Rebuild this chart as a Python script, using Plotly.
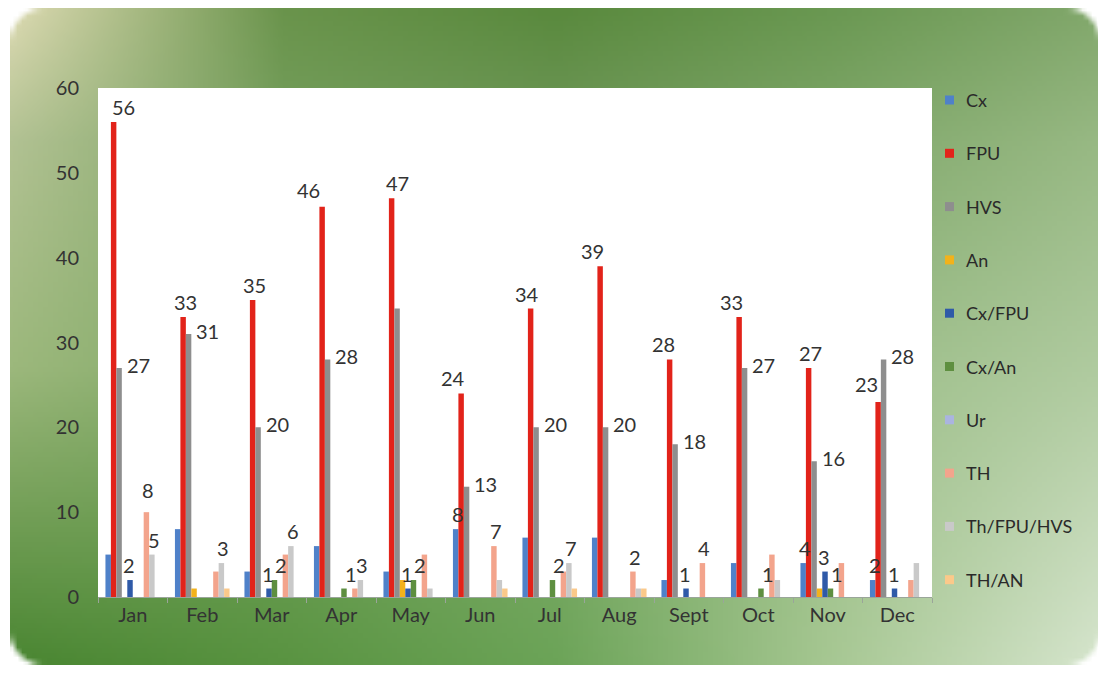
import base64
import struct
import zlib

import plotly.graph_objects as go

# ---- data ---------------------------------------------------------------
months = ["Jan", "Feb", "Mar", "Apr", "May", "Jun", "Jul", "Aug", "Sept", "Oct", "Nov", "Dec"]

cx = [5, 8, 3, 6, 3, 8, 7, 7, 2, 4, 4, 2]
fpu = [56, 33, 35, 46, 47, 24, 34, 39, 28, 33, 27, 23]
hvs = [27, 31, 20, 28, 34, 13, 20, 20, 18, 27, 16, 28]
an = [0, 1, 0, 0, 2, 0, 0, 0, 0, 0, 1, 0]
cx_fpu = [2, 0, 1, 0, 1, 0, 0, 0, 1, 0, 3, 1]
cx_an = [0, 0, 2, 1, 2, 0, 2, 0, 0, 1, 1, 0]
ur = [0, 0, 0, 0, 0, 0, 0, 0, 0, 0, 0, 0]
th = [10, 3, 5, 1, 5, 6, 3, 3, 4, 5, 4, 2]
th_fpu_hvs = [5, 4, 6, 2, 1, 2, 4, 1, 0, 2, 0, 4]
th_an = [0, 1, 0, 0, 0, 1, 1, 1, 0, 0, 0, 0]

# data labels as printed on the chart (None = no label)
lbl_cx = [None, None, None, None, None, "8", None, None, None, None, "4", "2"]
lbl_fpu = ["56", "33", "35", "46", "47", "24", "34", "39", "28", "33", "27", "23"]
lbl_hvs = ["27", "31", "20", "28", None, "13", "20", "20", "18", "27", "16", "28"]
lbl_cx_fpu = ["2", None, "1", None, "1", None, None, None, "1", None, "3", "1"]
lbl_cx_an = [None, None, "2", "1", "2", None, "2", None, None, "1", "1", None]
lbl_th = ["8", None, None, None, None, "7", None, "2", "4", None, None, None]
lbl_th_fpu_hvs = ["5", "3", "6", "3", None, None, "7", None, None, None, None, None]

series = [
    ("Cx", cx, "#4f81c9", lbl_cx),
    ("FPU", fpu, "#e2231a", lbl_fpu),
    ("HVS", hvs, "#8e8e8e", lbl_hvs),
    ("An", an, "#f2b21b", None),
    ("Cx/FPU", cx_fpu, "#2f5aa8", lbl_cx_fpu),
    ("Cx/An", cx_an, "#5e8f40", lbl_cx_an),
    ("Ur", ur, "#aab4e0", None),
    ("TH", th, "#f3a48c", lbl_th),
    ("Th/FPU/HVS", th_fpu_hvs, "#c9c9c9", lbl_th_fpu_hvs),
    ("TH/AN", th_an, "#fbc98a", None),
]

# ---- layout geometry (page has an 8px body margin) -----------------------
W, H = 1098, 665
ML, MR, MT, MB = 90, 174, 80, 76
plot_w = W - ML - MR
plot_h = H - MT - MB
bargap = 0.214
bar_px = plot_w / len(months) * (1 - bargap) / len(series)

# hand-placed label nudges (px), as the labels were dragged in the original
label_nudge = {("FPU", "Jan"): 8, ("FPU", "Apr"): -16, ("FPU", "May"): 4, ("FPU", "Jun"): -10,
               ("FPU", "Jul"): -6, ("FPU", "Aug"): -10, ("FPU", "Sept"): -8,
               ("FPU", "Oct"): -10, ("FPU", "Dec"): -14}
label_lift = {("TH", "Jan"): 7, ("FPU", "Apr"): 2, ("FPU", "Dec"): 3}


# ---- green gradient background (small png, stretched) --------------------
def hex2rgb(h):
    return [int(h[i:i + 2], 16) for i in (1, 3, 5)]


grid_u = [0, 0.25, 0.5, 0.75, 1]
grid_v = [0, 0.2, 0.55, 1]
grid = [
    ["#dcdab2", "#6a944c", "#5a8a3e", "#6a9852", "#82a86c"],
    ["#b2c293", "#76a05e", "#70985a", "#80a86a", "#98b984"],
    ["#9cb87c", "#7ea866", "#86ad70", "#9cbe88", "#b0cba0"],
    ["#4a8632", "#5a9442", "#6ca458", "#a6c792", "#d6e5cd"],
]
grid = [[hex2rgb(c) for c in row] for row in grid]


def interp(arr, t):
    for k in range(len(arr) - 1):
        if arr[k] <= t <= arr[k + 1]:
            return k, (t - arr[k]) / (arr[k + 1] - arr[k])
    return len(arr) - 2, 1.0


def color_at(u, v):
    i, fu = interp(grid_u, u)
    j, fv = interp(grid_v, v)
    out = []
    for c in range(3):
        a = grid[j][i][c] * (1 - fu) + grid[j][i + 1][c] * fu
        b = grid[j + 1][i][c] * (1 - fu) + grid[j + 1][i + 1][c] * fu
        out.append(int(a * (1 - fv) + b * fv))
    return out


iw, ih, rad = 218, 131, 7.0
rows = []
for y in range(ih):
    row = bytearray()
    for x in range(iw):
        r, g, b = color_at(x / (iw - 1), y / (ih - 1))
        cxp = min(max(x + 0.5, rad), iw - rad)
        cyp = min(max(y + 0.5, rad), ih - rad)
        d = ((x + 0.5 - cxp) ** 2 + (y + 0.5 - cyp) ** 2) ** 0.5
        alpha = int(255 * min(1.0, max(0.0, rad - d + 0.5)))
        row += bytes([r, g, b, alpha])
    rows.append(bytes(row))


def chunk(tag, data):
    return struct.pack(">I", len(data)) + tag + data + struct.pack(">I", zlib.crc32(tag + data) & 0xffffffff)


png = (b"\x89PNG\r\n\x1a\n"
       + chunk(b"IHDR", struct.pack(">IIBBBBB", iw, ih, 8, 6, 0, 0, 0))
       + chunk(b"IDAT", zlib.compress(b"".join(b"\x00" + r for r in rows)))
       + chunk(b"IEND", b""))
bg_uri = "data:image/png;base64," + base64.b64encode(png).decode()

# figure pixels -> paper coords
px = lambda x: (x - ML) / plot_w
py = lambda y: (H - MB - y) / plot_h
bx0, bx1, by0, by1 = 2, 1092, 0, 657

# ---- figure ------------------------------------------------------------
fig = go.Figure()
for k, (name, vals, col, _) in enumerate(series):
    fig.add_trace(go.Bar(x=months, y=vals, name=name, marker_color=col,
                         marker_line_width=0, showlegend=False))

label_font = dict(family="Lato, Open Sans, sans-serif", size=20, color="#333333")
extra_shift = {"Cx/FPU": -3, "Cx/An": 5}
for k, (name, vals, col, labels) in enumerate(series):
    if labels is None:
        continue
    centre = (k - 4.5) * bar_px
    for m, v, t in zip(months, vals, labels):
        if t is None:
            continue
        if name == "HVS":
            fig.add_annotation(x=m, y=v, text=t, showarrow=False, font=label_font,
                               xanchor="left", yanchor="middle",
                               xshift=centre + bar_px / 2 + 3, yshift=3)
        else:
            fig.add_annotation(x=m, y=v, text=t, showarrow=False, font=label_font,
                               xanchor="center", yanchor="bottom",
                               xshift=centre + 2 + extra_shift.get(name, 0) + label_nudge.get((name, m), 0),
                               yshift=1 + label_lift.get((name, m), 0))

# legend drawn by hand so the tall spacing fits
leg_top, leg_step = 92, 53.3
for k, (name, vals, col, _) in enumerate(series):
    yc = leg_top + k * leg_step
    fig.add_shape(type="rect", xref="paper", yref="paper",
                  x0=px(937), x1=px(946), y0=py(yc + 4.5), y1=py(yc - 4.5),
                  fillcolor=col, line_width=0)
    fig.add_annotation(xref="paper", yref="paper", x=px(956), y=py(yc), text=name,
                       showarrow=False, xanchor="left", yanchor="middle",
                       font=dict(family="Lato, Open Sans, sans-serif", size=18, color="#2a2a2a"))

fig.add_layout_image(source=bg_uri, xref="paper", yref="paper",
                     x=px(bx0), y=py(by0), sizex=px(bx1) - px(bx0), sizey=py(by0) - py(by1),
                     xanchor="left", yanchor="top", sizing="stretch", layer="below")
# white plotting area on top of the background image
fig.add_shape(type="rect", xref="paper", yref="paper", x0=0, x1=1, y0=0, y1=1,
              fillcolor="white", line_width=0, layer="below")

fig.update_layout(
    width=W, height=H,
    margin=dict(l=ML, r=MR, t=MT, b=MB, pad=0),
    paper_bgcolor="white", plot_bgcolor="white",
    barmode="group", bargap=bargap, bargroupgap=0,
    font=dict(family="Lato, Open Sans, sans-serif", size=18, color="#333333"),
    showlegend=False,
    hovermode=False,
)
fig.update_xaxes(showline=True, linecolor="#9aa59a", linewidth=1, ticks="outside",
                 tickson="boundaries", ticklen=5, tickcolor="#9aa59a",
                 tickfont=dict(size=20, color="#333333"), showgrid=False)
fig.update_yaxes(range=[0, 60], dtick=10, showgrid=False, zeroline=False, showline=False,
                 ticks="", ticklabelstandoff=18, tickfont=dict(size=20, color="#333333"))

fig.write_html("out.html")
